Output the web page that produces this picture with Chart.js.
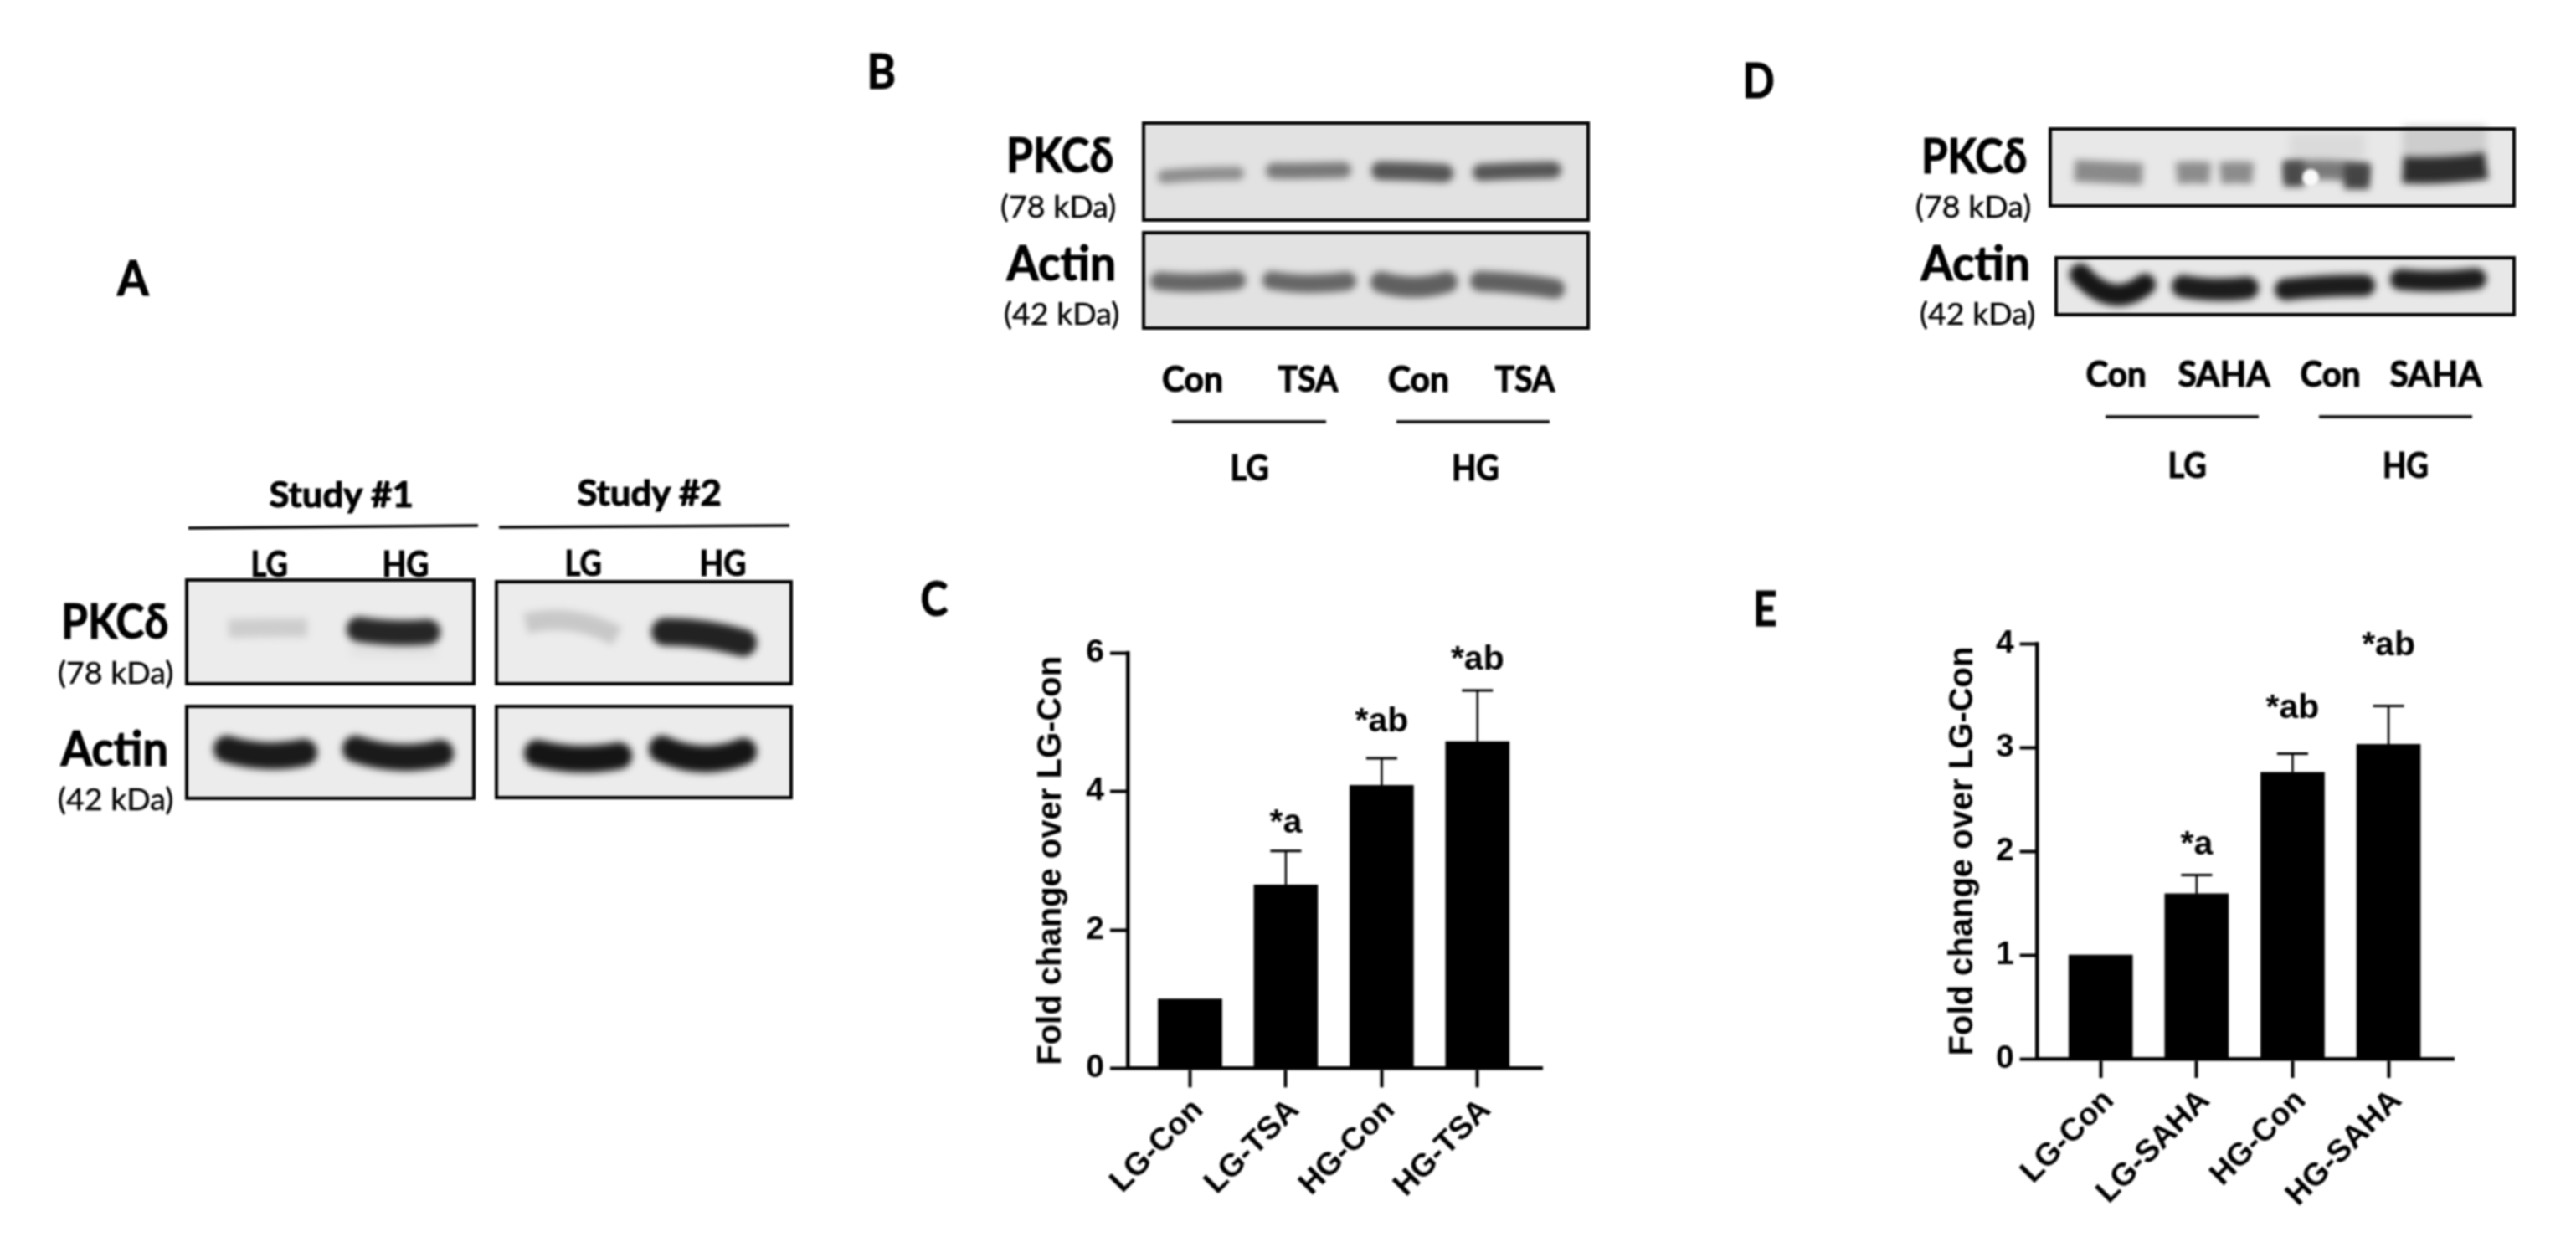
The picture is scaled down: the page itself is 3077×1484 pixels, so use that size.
<!DOCTYPE html>
<html>
<head>
<meta charset="utf-8">
<title>PKC delta blots and fold change</title>
<script src="https://cdn.jsdelivr.net/npm/chart.js@4"></script>
<style>
  html, body { margin: 0; padding: 0; background: #fff; }
  #page { position: relative; width: 3077px; height: 1484px; overflow: hidden; filter: blur(0.8px); }
  canvas { position: absolute; }
  .lbl { position: absolute; font-family: Lato, "Open Sans", sans-serif; line-height: 1; white-space: nowrap; color: #000; -webkit-text-stroke: 0.4px #000; }
  .heavy { -webkit-text-stroke: 1.1px #000; }
</style>
</head>
<body>
<div id="page">
  <canvas id="blots" width="3077" height="1484" style="left:0;top:0"></canvas>
  <canvas id="chartC" width="700" height="744" style="left:1180px;top:740px"></canvas>
  <canvas id="chartE" width="700" height="764" style="left:2280px;top:720px"></canvas>
</div>
<script>
// Panel C
const catsC = ['LG-Con', 'LG-TSA', 'HG-Con', 'HG-TSA'];
const valuesC = [1.0, 2.65, 4.09, 4.72];
const errTopC = [null, 3.14, 4.48, 5.46];
const notesC = ['', '*a', '*ab', '*ab'];
const noteLevelC = [null, 3.54, 5.0, 5.9];
const ticksC = [0, 2, 4, 6];

// Panel E
const catsE = ['LG-Con', 'LG-SAHA', 'HG-Con', 'HG-SAHA'];
const valuesE = [1.0, 1.59, 2.76, 3.03];
const errTopE = [null, 1.77, 2.94, 3.40];
const notesE = ['', '*a', '*ab', '*ab'];
const noteLevelE = [null, 2.06, 3.37, 3.98];
const ticksE = [0, 1, 2, 3, 4];

const yTitle = 'Fold change over LG-Con';

// error bars and letters above the bars
const barNotes = {
  id: 'barNotes',
  afterDatasetsDraw(chart, args, opts) {
    const ctx = chart.ctx;
    const x = chart.scales.x, y = chart.scales.y;
    ctx.save();
    ctx.strokeStyle = '#000';
    ctx.fillStyle = '#000';
    opts.errTop.forEach((top, i) => {
      if (top === null) return;
      const px = x.getPixelForValue(i);
      ctx.lineWidth = 2.5;
      ctx.beginPath();
      ctx.moveTo(px, y.getPixelForValue(opts.values[i]));
      ctx.lineTo(px, y.getPixelForValue(top));
      ctx.stroke();
      ctx.lineWidth = 3;
      ctx.beginPath();
      ctx.moveTo(px - 18.5, y.getPixelForValue(top));
      ctx.lineTo(px + 18.5, y.getPixelForValue(top));
      ctx.stroke();
      ctx.font = 'bold 41px "Liberation Sans"';
      ctx.textAlign = 'center';
      ctx.textBaseline = 'middle';
      ctx.fillText(opts.notes[i], px, y.getPixelForValue(opts.levels[i]));
    });
    ctx.restore();
  }
};

function makeChart(id, cats, values, errTop, notes, levels, yTicks, g) {
  new Chart(document.getElementById(id), {
    type: 'bar',
    data: {
      datasets: [{
        data: values.map((v, i) => ({ x: i, y: v })),
        backgroundColor: '#000',
        barThickness: 76
      }]
    },
    plugins: [barNotes],
    options: {
      responsive: false,
      animation: false,
      devicePixelRatio: 1,
      layout: { padding: { top: g.top, right: g.right, left: 0, bottom: 0 } },
      plugins: {
        legend: { display: false },
        tooltip: { enabled: false },
        barNotes: { errTop, values, notes, levels }
      },
      scales: {
        x: {
          type: 'linear',
          offset: false,
          min: g.xMin,
          max: g.xMax,
          afterBuildTicks: s => { s.ticks = cats.map((c, i) => ({ value: i })); },
          afterFit: s => { s.height = g.xHeight; s.paddingLeft = 0; s.paddingRight = 0; },
          border: { display: true, color: '#000', width: 4.5 },
          grid: { offset: false, drawOnChartArea: false, drawTicks: true, tickLength: 23, tickWidth: 4, tickColor: '#000' },
          ticks: {
            autoSkip: false,
            minRotation: 45,
            maxRotation: 45,
            padding: 5,
            labelOffset: 10,
            color: '#000',
            font: { family: 'Liberation Sans', size: 38, weight: 'bold' },
            callback: v => cats[v]
          }
        },
        y: {
          min: yTicks[0],
          max: yTicks[yTicks.length - 1],
          afterBuildTicks: s => { s.ticks = yTicks.map(v => ({ value: v })); },
          afterFit: s => { s.width = g.yWidth; s.paddingTop = 0; s.paddingBottom = 0; },
          border: { display: true, color: '#000', width: 4.5 },
          grid: { drawOnChartArea: false, drawTicks: true, tickLength: 21, tickWidth: 4, tickColor: '#000' },
          ticks: {
            padding: 7,
            color: '#000',
            font: { family: 'Liberation Sans', size: 39, weight: 'bold' }
          },
          title: {
            display: true,
            text: yTitle,
            color: '#000',
            padding: { top: g.titlePad, bottom: 0 },
            font: { family: 'Liberation Sans', size: 40, weight: 'bold' }
          }
        }
      }
    }
  });
}

makeChart('chartC', catsC, valuesC, errTopC, notesC, noteLevelC, ticksC,
  { top: 40.4, right: 37.5, yWidth: 167, xHeight: 207.7, xMin: -0.651, xMax: 3.679, titlePad: 52 });
makeChart('chartE', catsE, valuesE, errTopE, notesE, noteLevelE, ticksE,
  { top: 49, right: 49, yWidth: 153.6, xHeight: 219, xMin: -0.66, xMax: 3.68, titlePad: 41 });

// blot panels: left, top, right, bottom, background
const blotBoxes = [
  [223, 693, 566, 817, '#ececec'], [593, 695, 945, 817, '#ececec'], [223, 844, 566, 954, '#ececec'], [593, 844, 945, 953, '#ececec'],
  [1366, 147, 1897, 263, '#e2e2e2'], [1366, 278, 1897, 392, '#e2e2e2'],
  [2449, 154, 3003, 246, '#e8e8e8'], [2456, 308, 3003, 376, '#e8e8e8']
];
// bands: x0, x1, y left, y middle, y right, thickness, grey, cap
const blotBands = [
  [273, 367, 751, 750, 750, 22, '#cdcdcd', 'butt'],
  [414, 526, 752, 756, 755, 30, '#262626', 'round'],
  [628, 737, 745, 742, 760, 24, '#c8c8c8', 'butt'],
  [778, 904, 755, 758, 768, 33, '#222222', 'round'],
  [255, 379, 895, 903, 899, 32, '#1a1a1a', 'round'],
  [409, 542, 895, 905, 900, 32, '#1a1a1a', 'round'],
  [626, 755, 900, 907, 903, 32, '#151515', 'round'],
  [775, 904, 895, 907, 898, 32, '#151515', 'round'],

  [1383, 1486, 211, 208, 207, 16, '#8c8c8c', 'round'],
  [1512, 1614, 204, 204, 203, 19, '#777777', 'round'],
  [1638, 1736, 204, 205, 207, 22, '#555555', 'round'],
  [1759, 1865, 206, 204, 203, 20, '#555555', 'round'],
  [1374, 1488, 336, 338, 335, 22, '#666666', 'round'],
  [1508, 1620, 335, 339, 336, 22, '#666666', 'round'],
  [1637, 1741, 337, 343, 337, 25, '#606060', 'round'],
  [1756, 1869, 336, 339, 345, 24, '#606060', 'round'],

  [2478, 2559, 204, 206, 208, 26, '#8a8a8a', 'butt'],
  [2600, 2640, 207, 206, 207, 26, '#8c8c8c', 'butt'],
  [2652, 2691, 207, 206, 207, 26, '#8c8c8c', 'butt'],
  [2728, 2830, 205, 203, 208, 24, '#7a7a7a', 'butt'],
  [2728, 2752, 208, 208, 208, 30, '#4a4a4a', 'butt'],
  [2800, 2830, 211, 211, 211, 30, '#444444', 'butt'],
  [2870, 2970, 203, 203, 198, 32, '#2c2c2c', 'butt'],
  [2472, 2575, 328, 352, 340, 26, '#161616', 'round'],
  [2594, 2698, 342, 346, 344, 27, '#1c1c1c', 'round'],
  [2717, 2837, 346, 342, 341, 26, '#1c1c1c', 'round'],
  [2855, 2970, 334, 336, 333, 25, '#1c1c1c', 'round']
];
const blotHoles = [[2760, 212, 10]];
// faint smear: x0, x1, top, height, grey
const blotHaze = [
  [2870, 2970, 150, 40, '#cdcdcd'], [2735, 2825, 160, 30, '#dadada'],
  [420, 520, 768, 16, '#e2e2e2']
];

function drawBlots() {
  const ctx = document.getElementById('blots').getContext('2d');
  blotBoxes.forEach(b => {
    ctx.fillStyle = b[4];
    ctx.fillRect(b[0], b[1], b[2] - b[0], b[3] - b[1]);
  });
  ctx.filter = 'blur(5px)';
  blotHaze.forEach(h => {
    ctx.fillStyle = h[4];
    ctx.fillRect(h[0], h[2], h[1] - h[0], h[3]);
  });
  ctx.filter = 'blur(4px)';
  blotBands.forEach(b => {
    const t = b[5];
    const inset = b[7] === 'round' ? t / 2 : 0;
    ctx.lineCap = b[7];
    ctx.strokeStyle = b[6];
    ctx.lineWidth = t;
    ctx.beginPath();
    ctx.moveTo(b[0] + inset, b[2]);
    ctx.quadraticCurveTo((b[0] + b[1]) / 2, 2 * b[3] - (b[2] + b[4]) / 2, b[1] - inset, b[4]);
    ctx.stroke();
  });
  ctx.filter = 'blur(1.5px)';
  blotHoles.forEach(h => {
    ctx.fillStyle = '#fafafa';
    ctx.beginPath();
    ctx.arc(h[0], h[1], h[2], 0, Math.PI * 2);
    ctx.fill();
  });
  ctx.filter = 'none';
  ctx.strokeStyle = '#000';
  ctx.lineWidth = 4;
  blotBoxes.forEach(b => ctx.strokeRect(b[0], b[1], b[2] - b[0], b[3] - b[1]));
  // lines under the group labels: x0, x1, y left, y right
  const rules = [
    [225, 571, 631, 628], [596, 943, 630, 628],
    [1400, 1584, 504, 504], [1668, 1851, 504, 504],
    [2515, 2698, 498, 498], [2770, 2953, 498, 498]
  ];
  ctx.lineWidth = 3.5;
  ctx.lineCap = 'butt';
  rules.forEach(r => {
    ctx.beginPath();
    ctx.moveTo(r[0], r[2]);
    ctx.lineTo(r[1], r[3]);
    ctx.stroke();
  });
}
drawBlots();

// text: label, centre x, centre y, font size, weight, width
const labels = [
  ['A', 159, 331, 57, 700, 38],
  ['B', 1053, 84, 57, 700, 35],
  ['C', 1116, 714, 57, 700, 33],
  ['D', 2100, 95, 57, 700, 38],
  ['E', 2108, 726, 57, 700, 29],

  ['Study #1', 407, 590, 42, 700, 172],
  ['Study #2', 775, 588, 42, 700, 172],
  ['LG', 321, 673, 42, 700, 44],
  ['HG', 484, 673, 42, 700, 56],
  ['LG', 696, 672, 42, 700, 44],
  ['HG', 863, 672, 42, 700, 56],
  ['PKCδ', 137, 741, 58, 700, 128],
  ['(78 kDa)', 138, 802, 37, 400, 138],
  ['Actin', 137, 893, 58, 700, 129],
  ['(42 kDa)', 138, 953, 37, 400, 138],

  ['PKCδ', 1266, 184, 58, 700, 128],
  ['(78 kDa)', 1264, 245, 37, 400, 138],
  ['Actin', 1268, 313, 58, 700, 131],
  ['(42 kDa)', 1268, 373, 37, 400, 138],
  ['Con', 1424, 452, 42, 700, 73],
  ['TSA', 1562, 452, 42, 700, 72],
  ['Con', 1694, 452, 42, 700, 73],
  ['TSA', 1821, 452, 42, 700, 72],
  ['LG', 1492, 558, 42, 700, 46],
  ['HG', 1762, 558, 42, 700, 57],

  ['PKCδ', 2358, 185, 58, 700, 126],
  ['(78 kDa)', 2357, 245, 37, 400, 138],
  ['Actin', 2360, 313, 58, 700, 131],
  ['(42 kDa)', 2362, 373, 37, 400, 138],
  ['Con', 2527, 446, 42, 700, 72],
  ['SAHA', 2656, 446, 42, 700, 110],
  ['Con', 2783, 446, 42, 700, 72],
  ['SAHA', 2909, 446, 42, 700, 110],
  ['LG', 2612, 555, 42, 700, 46],
  ['HG', 2873, 555, 42, 700, 55]
];

const page = document.getElementById('page');
labels.forEach(l => {
  const d = document.createElement('div');
  d.className = l[4] === 700 ? 'lbl heavy' : 'lbl';
  d.textContent = l[0];
  d.style.fontSize = l[3] + 'px';
  d.style.fontWeight = l[4];
  page.appendChild(d);
  const w = d.offsetWidth, h = d.offsetHeight;
  d.style.left = (l[1] - w / 2) + 'px';
  d.style.top = (l[2] - h / 2) + 'px';
  d.style.transform = 'scaleX(' + (l[5] / w) + ')';
});
</script>
</body>
</html>
